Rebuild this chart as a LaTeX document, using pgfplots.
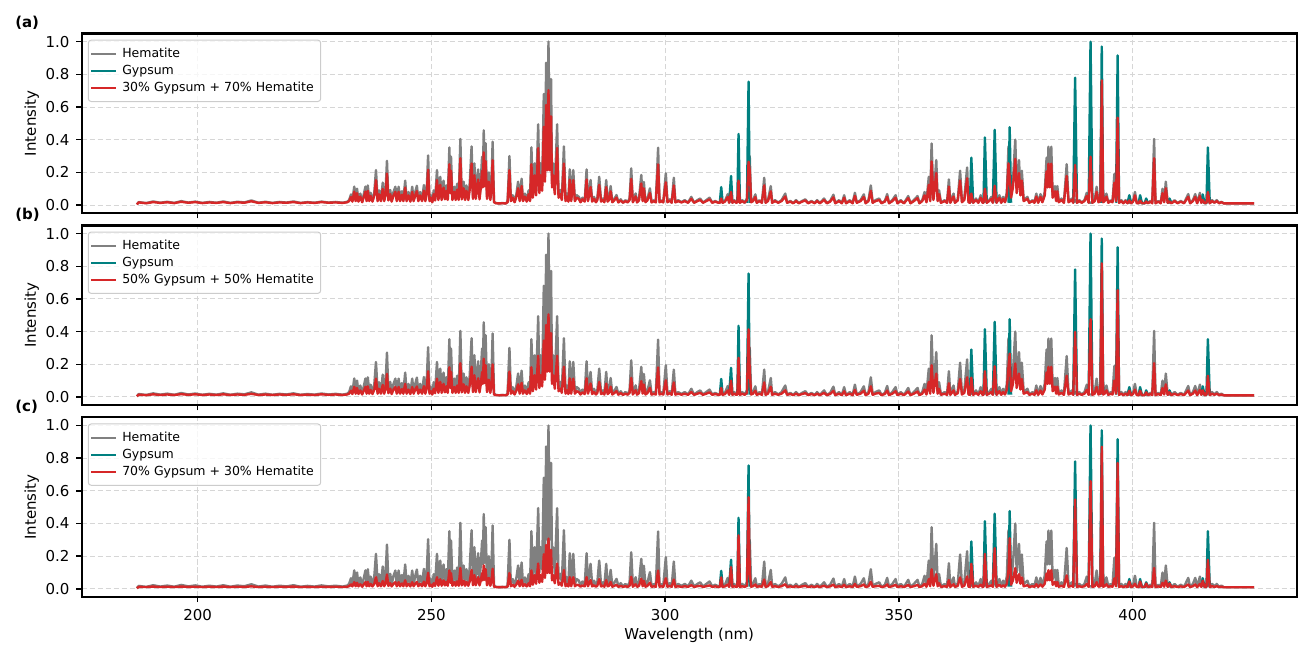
\documentclass[border=0pt]{standalone}
\usepackage{pgfplots}
\pgfplotsset{compat=1.18}
\usepackage{pgfplotstable}
\usepackage{fontspec}
\setmainfont{DejaVu Sans}

\definecolor{hemgray}{RGB}{128,128,128}
\definecolor{gyteal}{RGB}{0,128,128}
\definecolor{mixred}{RGB}{214,39,40}
\definecolor{gridgray}{RGB}{214,214,214}
\definecolor{legframe}{RGB}{204,204,204}

% LIBS emission spectra (normalised): h = hematite, g = gypsum lines
% (nan where the gypsum trace stays on its baseline, hidden below the mixture),
% a/b/c = 30/50/70 % gypsum mixtures with hematite
\pgfplotstableread{
x h g a b c
187.0 0.004 nan 0.004 0.004 0.004
187.4 0.018 nan 0.016 0.014 0.012
189.0 0.012 nan 0.011 0.011 0.011
190.5 0.022 nan 0.018 0.016 0.014
192.0 0.014 nan 0.013 0.012 0.011
193.5 0.020 nan 0.017 0.015 0.013
195.0 0.013 nan 0.012 0.012 0.011
196.5 0.024 nan 0.020 0.017 0.014
198.0 0.015 nan 0.014 0.013 0.012
199.5 0.021 nan 0.018 0.016 0.013
201.0 0.013 nan 0.012 0.012 0.011
202.5 0.019 nan 0.016 0.015 0.013
204.0 0.014 nan 0.013 0.012 0.011
205.5 0.022 nan 0.018 0.016 0.014
207.0 0.013 nan 0.012 0.012 0.011
208.5 0.020 nan 0.017 0.015 0.013
210.0 0.016 nan 0.014 0.013 0.012
211.5 0.028 nan 0.023 0.019 0.015
213.0 0.014 nan 0.013 0.012 0.011
214.5 0.020 nan 0.017 0.015 0.013
216.0 0.013 nan 0.012 0.012 0.011
217.5 0.019 nan 0.016 0.015 0.013
219.0 0.015 nan 0.014 0.013 0.012
220.5 0.022 nan 0.018 0.016 0.014
222.0 0.013 nan 0.012 0.012 0.011
223.5 0.018 nan 0.016 0.014 0.012
225.0 0.014 nan 0.013 0.012 0.011
226.5 0.021 nan 0.018 0.016 0.013
228.0 0.015 nan 0.014 0.013 0.012
229.5 0.019 nan 0.016 0.015 0.013
231.0 0.014 nan 0.013 0.012 0.011
232.0 0.020 nan 0.017 0.015 0.013
232.4 0.030 nan 0.024 0.020 0.016
232.8 0.065 nan 0.049 0.038 0.027
233.1 0.025 nan 0.021 0.018 0.015
233.5 0.113 nan 0.082 0.062 0.041
233.8 0.030 nan 0.024 0.020 0.016
234.1 0.100 nan 0.073 0.055 0.037
234.4 0.025 nan 0.021 0.018 0.015
234.8 0.070 nan 0.052 0.040 0.028
235.2 0.020 nan 0.017 0.015 0.013
235.5 0.060 nan 0.045 0.035 0.025
235.9 0.113 nan 0.082 0.062 0.041
236.15 0.030 nan 0.024 0.020 0.016
236.4 0.120 nan 0.087 0.065 0.043
236.7 0.030 nan 0.024 0.020 0.016
237.0 0.075 nan 0.056 0.043 0.030
237.4 0.025 nan 0.021 0.018 0.015
237.8 0.080 nan 0.059 0.045 0.031
238.15 0.214 nan 0.153 0.112 0.071
238.5 0.030 nan 0.024 0.020 0.016
238.8 0.090 nan 0.066 0.050 0.034
239.2 0.030 nan 0.024 0.020 0.016
239.6 0.137 nan 0.099 0.074 0.048
239.9 0.030 nan 0.024 0.020 0.016
240.2 0.085 nan 0.063 0.048 0.033
240.5 0.271 nan 0.193 0.141 0.088
240.8 0.035 nan 0.028 0.023 0.018
241.2 0.092 nan 0.067 0.051 0.035
241.5 0.025 nan 0.021 0.018 0.015
241.9 0.080 nan 0.059 0.045 0.031
242.3 0.112 nan 0.081 0.061 0.041
242.6 0.030 nan 0.024 0.020 0.016
243.0 0.112 nan 0.081 0.061 0.041
243.3 0.030 nan 0.024 0.020 0.016
243.7 0.085 nan 0.063 0.048 0.033
244.0 0.030 nan 0.024 0.020 0.016
244.4 0.149 nan 0.107 0.080 0.052
244.7 0.030 nan 0.024 0.020 0.016
245.1 0.080 nan 0.059 0.045 0.031
245.5 0.025 nan 0.021 0.018 0.015
245.9 0.112 nan 0.081 0.061 0.041
246.2 0.030 nan 0.024 0.020 0.016
246.6 0.085 nan 0.063 0.048 0.033
246.9 0.118 nan 0.086 0.064 0.042
247.2 0.030 nan 0.024 0.020 0.016
247.6 0.080 nan 0.059 0.045 0.031
248.0 0.030 nan 0.024 0.020 0.016
248.4 0.122 nan 0.088 0.066 0.044
248.7 0.030 nan 0.024 0.020 0.016
249.0 0.090 nan 0.066 0.050 0.034
249.3 0.304 nan 0.216 0.157 0.098
249.6 0.030 nan 0.024 0.020 0.016
249.9 0.060 nan 0.045 0.035 0.025
250.2 0.020 nan 0.017 0.015 0.013
250.5 0.090 nan 0.066 0.050 0.034
250.8 0.035 nan 0.028 0.023 0.018
251.2 0.214 nan 0.153 0.112 0.071
251.5 0.040 nan 0.031 0.025 0.019
251.9 0.173 nan 0.124 0.092 0.059
252.2 0.040 nan 0.031 0.025 0.019
252.6 0.149 nan 0.107 0.080 0.052
252.9 0.045 nan 0.035 0.028 0.021
253.2 0.120 nan 0.087 0.065 0.043
253.5 0.040 nan 0.031 0.025 0.019
253.85 0.353 nan 0.250 0.182 0.113
254.05 0.100 nan 0.073 0.055 0.037
254.2 0.296 nan 0.210 0.153 0.096
254.5 0.040 nan 0.031 0.025 0.019
254.9 0.112 nan 0.081 0.061 0.041
255.2 0.040 nan 0.031 0.025 0.019
255.5 0.130 nan 0.094 0.070 0.046
255.85 0.040 nan 0.031 0.025 0.019
256.2 0.404 nan 0.286 0.207 0.128
256.5 0.045 nan 0.035 0.028 0.021
256.9 0.143 nan 0.103 0.077 0.050
257.2 0.040 nan 0.031 0.025 0.019
257.5 0.120 nan 0.087 0.065 0.043
257.9 0.040 nan 0.031 0.025 0.019
258.2 0.130 nan 0.094 0.070 0.046
258.6 0.359 nan 0.254 0.185 0.115
258.9 0.050 nan 0.038 0.030 0.022
259.2 0.255 nan 0.182 0.133 0.084
259.5 0.050 nan 0.038 0.030 0.022
260.0 0.218 nan 0.156 0.114 0.072
260.3 0.045 nan 0.035 0.028 0.021
260.55 0.140 nan 0.101 0.075 0.049
260.85 0.296 nan 0.210 0.153 0.096
261.0 0.150 nan 0.108 0.080 0.052
261.2 0.457 nan 0.323 0.234 0.144
261.4 0.160 nan 0.115 0.085 0.055
261.6 0.378 nan 0.268 0.194 0.120
261.9 0.050 nan 0.038 0.030 0.022
262.3 0.200 nan 0.143 0.105 0.067
262.6 0.040 nan 0.031 0.025 0.019
262.85 0.120 nan 0.087 0.065 0.043
263.1 0.388 nan 0.275 0.199 0.123
263.4 0.020 nan 0.017 0.015 0.013
263.8 0.012 nan 0.011 0.011 0.011
264.5 0.010 nan 0.010 0.010 0.010
265.2 0.012 nan 0.011 0.011 0.011
265.9 0.010 nan 0.010 0.010 0.010
266.3 0.020 nan 0.017 0.015 0.013
266.7 0.300 nan 0.213 0.155 0.097
267.0 0.030 nan 0.024 0.020 0.016
267.4 0.060 nan 0.045 0.035 0.025
267.8 0.020 nan 0.017 0.015 0.013
268.2 0.070 nan 0.052 0.040 0.028
268.55 0.143 nan 0.103 0.077 0.050
268.9 0.030 nan 0.024 0.020 0.016
269.3 0.161 nan 0.116 0.086 0.055
269.6 0.030 nan 0.024 0.020 0.016
270.0 0.070 nan 0.052 0.040 0.028
270.4 0.025 nan 0.021 0.018 0.015
270.8 0.090 nan 0.066 0.050 0.034
271.1 0.030 nan 0.024 0.020 0.016
271.4 0.353 nan 0.250 0.182 0.113
271.7 0.060 nan 0.045 0.035 0.025
272.1 0.255 nan 0.182 0.133 0.084
272.4 0.080 nan 0.059 0.045 0.031
272.85 0.494 nan 0.349 0.252 0.155
273.1 0.100 nan 0.073 0.055 0.037
273.35 0.255 nan 0.182 0.133 0.084
273.7 0.120 nan 0.087 0.065 0.043
274.05 0.680 nan 0.479 0.345 0.211
274.3 0.200 nan 0.143 0.105 0.067
274.55 0.871 nan 0.613 0.441 0.268
274.8 0.300 nan 0.213 0.155 0.097
275.05 1.000 nan 0.703 0.505 0.307
275.3 0.300 nan 0.213 0.155 0.097
275.6 0.771 nan 0.543 0.391 0.238
275.8 0.150 nan 0.108 0.080 0.052
276.05 0.255 nan 0.182 0.133 0.084
276.4 0.090 nan 0.066 0.050 0.034
276.9 0.494 nan 0.349 0.252 0.155
277.2 0.060 nan 0.045 0.035 0.025
277.6 0.092 nan 0.067 0.051 0.035
277.9 0.040 nan 0.031 0.025 0.019
278.35 0.359 nan 0.254 0.185 0.115
278.7 0.030 nan 0.024 0.020 0.016
279.0 0.070 nan 0.052 0.040 0.028
279.3 0.025 nan 0.021 0.018 0.015
279.6 0.218 nan 0.156 0.114 0.072
279.9 0.030 nan 0.024 0.020 0.016
280.35 0.214 nan 0.153 0.112 0.071
280.7 0.030 nan 0.024 0.020 0.016
281.1 0.060 nan 0.045 0.035 0.025
281.55 0.050 nan 0.038 0.030 0.022
281.9 0.020 nan 0.017 0.015 0.013
282.3 0.045 nan 0.035 0.028 0.021
282.8 0.025 nan 0.021 0.018 0.015
283.2 0.218 nan 0.156 0.114 0.072
283.5 0.030 nan 0.024 0.020 0.016
284.05 0.153 nan 0.110 0.082 0.053
284.4 0.025 nan 0.021 0.018 0.015
284.8 0.050 nan 0.038 0.030 0.022
285.2 0.020 nan 0.017 0.015 0.013
285.5 0.040 nan 0.031 0.025 0.019
285.9 0.173 nan 0.124 0.092 0.059
286.3 0.025 nan 0.021 0.018 0.015
286.7 0.040 nan 0.031 0.025 0.019
287.0 0.020 nan 0.017 0.015 0.013
287.4 0.153 nan 0.110 0.082 0.053
287.7 0.025 nan 0.021 0.018 0.015
288.0 0.040 nan 0.031 0.025 0.019
288.35 0.116 nan 0.084 0.063 0.042
288.7 0.020 nan 0.017 0.015 0.013
289.1 0.035 nan 0.028 0.023 0.018
289.6 0.061 nan 0.046 0.036 0.025
290.0 0.018 nan 0.016 0.014 0.012
290.5 0.035 nan 0.028 0.023 0.018
291.0 0.015 nan 0.014 0.013 0.012
291.5 0.030 nan 0.024 0.020 0.016
292.0 0.018 nan 0.016 0.014 0.012
292.4 0.040 nan 0.031 0.025 0.019
292.75 0.224 nan 0.160 0.117 0.074
293.1 0.020 nan 0.017 0.015 0.013
293.7 0.071 nan 0.053 0.041 0.028
294.0 0.018 nan 0.016 0.014 0.012
294.4 0.035 nan 0.028 0.023 0.018
294.9 0.184 nan 0.132 0.097 0.062
295.2 0.030 nan 0.024 0.020 0.016
295.45 0.141 nan 0.102 0.076 0.049
295.8 0.020 nan 0.017 0.015 0.013
296.2 0.035 nan 0.028 0.023 0.018
296.75 0.102 nan 0.074 0.056 0.038
297.1 0.018 nan 0.016 0.014 0.012
297.6 0.030 nan 0.024 0.020 0.016
298.0 0.018 nan 0.016 0.014 0.012
298.5 0.351 nan 0.249 0.181 0.112
298.8 0.020 nan 0.017 0.015 0.013
299.2 0.030 nan 0.024 0.020 0.016
299.6 0.018 nan 0.016 0.014 0.012
300.15 0.194 nan 0.139 0.102 0.065
300.5 0.020 nan 0.017 0.015 0.013
301.0 0.035 nan 0.028 0.023 0.018
301.4 0.015 nan 0.014 0.013 0.012
301.86 0.167 nan 0.120 0.089 0.057
302.2 0.018 nan 0.016 0.014 0.012
302.8 0.030 nan 0.024 0.020 0.016
303.5 0.018 nan 0.016 0.014 0.012
304.2 0.030 nan 0.024 0.020 0.016
304.9 0.015 nan 0.014 0.013 0.012
305.6 0.050 nan 0.038 0.030 0.022
306.2 0.015 nan 0.014 0.013 0.012
306.9 0.030 nan 0.024 0.020 0.016
307.5 0.040 nan 0.031 0.025 0.019
308.1 0.015 nan 0.014 0.013 0.012
308.8 0.030 nan 0.024 0.020 0.016
309.5 0.045 nan 0.035 0.028 0.021
310.1 0.015 nan 0.014 0.013 0.012
310.7 0.025 nan 0.021 0.018 0.015
311.4 0.015 nan 0.014 0.013 0.012
311.7 0.015 0.014 0.014 0.013 0.012
312.0 0.030 0.110 0.040 0.055 0.070
312.3 0.015 0.014 0.014 0.013 0.012
312.8 0.025 nan 0.021 0.018 0.015
313.4 0.067 nan 0.050 0.039 0.027
313.7 0.015 0.014 0.014 0.013 0.012
314.1 0.040 0.178 0.080 0.100 0.133
314.4 0.015 0.014 0.014 0.013 0.012
314.8 0.030 nan 0.024 0.020 0.016
315.2 0.015 nan 0.014 0.013 0.012
315.45 0.020 0.014 0.017 0.015 0.013
315.7 0.050 0.435 0.150 0.240 0.327
316.0 0.015 0.014 0.014 0.013 0.012
316.5 0.030 nan 0.024 0.020 0.016
317.0 0.015 nan 0.014 0.013 0.012
317.5 0.040 0.014 0.031 0.025 0.019
317.85 0.050 0.755 0.265 0.414 0.561
318.1 0.300 0.014 0.213 0.155 0.097
318.4 0.020 nan 0.017 0.015 0.013
318.8 0.030 nan 0.024 0.020 0.016
319.3 0.065 nan 0.049 0.038 0.027
319.6 0.015 nan 0.014 0.013 0.012
320.2 0.030 nan 0.024 0.020 0.016
320.7 0.015 nan 0.014 0.013 0.012
321.2 0.167 nan 0.120 0.089 0.057
321.5 0.015 nan 0.014 0.013 0.012
322.0 0.030 nan 0.024 0.020 0.016
322.6 0.116 nan 0.084 0.063 0.042
322.9 0.015 nan 0.014 0.013 0.012
323.5 0.030 nan 0.024 0.020 0.016
324.2 0.015 nan 0.014 0.013 0.012
324.9 0.030 nan 0.024 0.020 0.016
325.7 0.070 nan 0.052 0.040 0.028
326.1 0.015 nan 0.014 0.013 0.012
326.8 0.025 nan 0.021 0.018 0.015
327.4 0.012 nan 0.011 0.011 0.011
328.0 0.030 nan 0.024 0.020 0.016
328.6 0.012 nan 0.011 0.011 0.011
329.3 0.025 nan 0.021 0.018 0.015
330.0 0.035 nan 0.028 0.023 0.018
330.6 0.012 nan 0.011 0.011 0.011
331.3 0.025 nan 0.021 0.018 0.015
332.0 0.012 nan 0.011 0.011 0.011
332.5 0.030 nan 0.024 0.020 0.016
333.1 0.012 nan 0.011 0.011 0.011
334.0 0.040 nan 0.031 0.025 0.019
334.6 0.012 nan 0.011 0.011 0.011
335.3 0.025 nan 0.021 0.018 0.015
336.0 0.063 nan 0.047 0.037 0.026
336.4 0.012 nan 0.011 0.011 0.011
337.2 0.030 nan 0.024 0.020 0.016
337.8 0.012 nan 0.011 0.011 0.011
338.3 0.060 nan 0.045 0.035 0.025
338.7 0.012 nan 0.011 0.011 0.011
339.5 0.030 nan 0.024 0.020 0.016
340.1 0.012 nan 0.011 0.011 0.011
340.6 0.075 nan 0.056 0.043 0.030
341.0 0.015 nan 0.014 0.013 0.012
341.8 0.030 nan 0.024 0.020 0.016
342.5 0.065 nan 0.049 0.038 0.027
342.9 0.012 nan 0.011 0.011 0.011
343.5 0.030 nan 0.024 0.020 0.016
344.0 0.120 nan 0.087 0.065 0.043
344.4 0.015 nan 0.014 0.013 0.012
345.0 0.030 nan 0.024 0.020 0.016
345.8 0.040 nan 0.031 0.025 0.019
346.3 0.012 nan 0.011 0.011 0.011
347.0 0.025 nan 0.021 0.018 0.015
347.5 0.067 nan 0.050 0.039 0.027
347.9 0.012 nan 0.011 0.011 0.011
348.6 0.030 nan 0.024 0.020 0.016
349.3 0.060 nan 0.045 0.035 0.025
349.7 0.012 nan 0.011 0.011 0.011
350.4 0.030 nan 0.024 0.020 0.016
351.1 0.012 nan 0.011 0.011 0.011
352.0 0.055 nan 0.042 0.033 0.024
352.5 0.012 nan 0.011 0.011 0.011
353.2 0.030 nan 0.024 0.020 0.016
354.0 0.055 nan 0.042 0.033 0.024
354.4 0.012 nan 0.011 0.011 0.011
355.0 0.030 nan 0.024 0.020 0.016
355.5 0.080 nan 0.059 0.045 0.031
355.9 0.020 nan 0.017 0.015 0.013
356.4 0.173 nan 0.124 0.092 0.059
356.7 0.030 nan 0.024 0.020 0.016
357.0 0.377 nan 0.267 0.194 0.120
357.4 0.040 nan 0.031 0.025 0.019
358.0 0.275 nan 0.196 0.143 0.090
358.3 0.030 nan 0.024 0.020 0.016
358.6 0.090 nan 0.066 0.050 0.034
359.0 0.015 nan 0.014 0.013 0.012
359.8 0.030 nan 0.024 0.020 0.016
360.3 0.015 nan 0.014 0.013 0.012
360.7 0.157 nan 0.113 0.084 0.054
361.0 0.015 nan 0.014 0.013 0.012
361.7 0.070 nan 0.052 0.040 0.028
362.0 0.015 nan 0.014 0.013 0.012
362.6 0.035 nan 0.028 0.023 0.018
363.1 0.210 nan 0.150 0.110 0.070
363.5 0.020 nan 0.017 0.015 0.013
364.0 0.040 nan 0.031 0.025 0.019
364.6 0.230 nan 0.164 0.120 0.076
364.9 0.020 nan 0.017 0.015 0.013
365.2 0.015 0.014 0.014 0.013 0.012
365.5 0.030 0.290 0.070 0.118 0.153
365.9 0.015 0.014 0.014 0.013 0.012
366.5 0.040 nan 0.031 0.025 0.019
367.0 0.015 nan 0.014 0.013 0.012
367.5 0.060 nan 0.045 0.035 0.025
367.9 0.015 nan 0.014 0.013 0.012
368.1 0.015 0.014 0.014 0.013 0.012
368.4 0.040 0.414 0.100 0.157 0.214
368.8 0.015 0.014 0.014 0.013 0.012
369.3 0.030 nan 0.024 0.020 0.016
369.8 0.050 nan 0.038 0.030 0.022
370.1 0.015 0.014 0.014 0.013 0.012
370.5 0.050 0.460 0.118 0.188 0.249
370.9 0.015 0.014 0.014 0.013 0.012
371.5 0.060 nan 0.045 0.035 0.025
371.9 0.015 nan 0.014 0.013 0.012
372.3 0.050 nan 0.038 0.030 0.022
372.7 0.020 nan 0.017 0.015 0.013
373.1 0.080 nan 0.059 0.045 0.031
373.45 0.360 0.014 0.255 0.185 0.115
373.7 0.060 0.476 0.170 0.265 0.310
374.0 0.060 0.014 0.045 0.035 0.025
374.4 0.150 nan 0.108 0.080 0.052
374.9 0.400 nan 0.283 0.205 0.127
375.2 0.100 nan 0.073 0.055 0.037
375.7 0.275 nan 0.196 0.143 0.090
376.0 0.080 nan 0.059 0.045 0.031
376.3 0.210 nan 0.150 0.110 0.070
376.7 0.030 nan 0.024 0.020 0.016
377.1 0.040 nan 0.031 0.025 0.019
377.5 0.050 nan 0.038 0.030 0.022
377.9 0.015 nan 0.014 0.013 0.012
378.6 0.030 nan 0.024 0.020 0.016
379.0 0.015 nan 0.014 0.013 0.012
379.4 0.070 nan 0.052 0.040 0.028
379.8 0.015 nan 0.014 0.013 0.012
380.3 0.067 nan 0.050 0.039 0.027
380.7 0.020 nan 0.017 0.015 0.013
381.2 0.080 nan 0.059 0.045 0.031
381.6 0.290 nan 0.206 0.150 0.094
381.8 0.150 nan 0.108 0.080 0.052
382.0 0.357 nan 0.253 0.184 0.114
382.3 0.150 nan 0.108 0.080 0.052
382.6 0.357 nan 0.253 0.184 0.114
382.9 0.060 nan 0.045 0.035 0.025
383.4 0.116 nan 0.084 0.063 0.042
383.65 0.030 nan 0.024 0.020 0.016
383.9 0.116 nan 0.084 0.063 0.042
384.2 0.020 nan 0.017 0.015 0.013
384.8 0.040 nan 0.031 0.025 0.019
385.3 0.015 nan 0.014 0.013 0.012
385.9 0.250 nan 0.178 0.130 0.082
386.3 0.020 nan 0.017 0.015 0.013
387.0 0.040 nan 0.031 0.025 0.019
387.3 0.015 0.014 0.014 0.013 0.012
387.7 0.030 0.780 0.245 0.398 0.547
388.1 0.015 0.014 0.014 0.013 0.012
388.6 0.030 nan 0.024 0.020 0.016
389.1 0.015 nan 0.014 0.013 0.012
389.7 0.030 nan 0.024 0.020 0.016
390.2 0.075 nan 0.056 0.043 0.030
390.6 0.015 0.014 0.014 0.013 0.012
391.0 0.015 1.000 0.296 0.476 0.660
391.4 0.015 0.014 0.014 0.013 0.012
391.9 0.030 nan 0.024 0.020 0.016
392.3 0.112 nan 0.081 0.061 0.041
392.7 0.020 nan 0.017 0.015 0.013
393.1 0.030 0.014 0.024 0.020 0.016
393.4 0.670 0.970 0.763 0.818 0.870
393.7 0.020 0.014 0.017 0.015 0.013
394.0 0.030 nan 0.024 0.020 0.016
394.4 0.070 nan 0.052 0.040 0.028
394.8 0.015 nan 0.014 0.013 0.012
395.3 0.030 nan 0.024 0.020 0.016
395.7 0.020 nan 0.017 0.015 0.013
396.1 0.190 nan 0.136 0.100 0.064
396.45 0.030 0.014 0.024 0.020 0.016
396.8 0.380 0.916 0.535 0.654 0.771
397.1 0.015 0.014 0.014 0.013 0.012
397.6 0.030 nan 0.024 0.020 0.016
398.0 0.012 nan 0.011 0.011 0.011
398.5 0.030 nan 0.024 0.020 0.016
398.9 0.012 0.012 0.011 0.011 0.011
399.3 0.015 0.060 0.028 0.038 0.045
399.7 0.012 0.012 0.011 0.011 0.011
400.1 0.025 nan 0.021 0.018 0.015
400.5 0.080 nan 0.059 0.045 0.031
400.9 0.012 nan 0.011 0.011 0.011
401.3 0.012 0.012 0.011 0.011 0.011
401.6 0.015 0.060 0.028 0.038 0.045
402.0 0.012 0.012 0.011 0.011 0.011
402.6 0.012 0.012 0.011 0.011 0.011
402.9 0.015 0.040 0.022 0.028 0.033
403.3 0.012 0.012 0.011 0.011 0.011
403.8 0.025 nan 0.021 0.018 0.015
404.2 0.012 nan 0.011 0.011 0.011
404.6 0.404 nan 0.286 0.207 0.128
404.9 0.012 nan 0.011 0.011 0.011
405.5 0.025 nan 0.021 0.018 0.015
406.0 0.012 nan 0.011 0.011 0.011
406.4 0.100 nan 0.073 0.055 0.037
406.75 0.020 nan 0.017 0.015 0.013
407.1 0.143 nan 0.103 0.077 0.050
407.5 0.015 0.012 0.014 0.013 0.012
407.9 0.015 0.040 0.022 0.028 0.033
408.3 0.012 0.012 0.011 0.011 0.011
409.0 0.030 nan 0.024 0.020 0.016
409.6 0.012 nan 0.011 0.011 0.011
410.3 0.025 nan 0.021 0.018 0.015
411.0 0.012 nan 0.011 0.011 0.011
411.9 0.067 nan 0.050 0.039 0.027
412.3 0.012 nan 0.011 0.011 0.011
412.9 0.030 nan 0.024 0.020 0.016
413.4 0.067 nan 0.050 0.039 0.027
413.8 0.012 nan 0.011 0.011 0.011
414.4 0.075 nan 0.056 0.043 0.030
414.7 0.015 0.012 0.014 0.013 0.012
415.0 0.030 0.065 0.030 0.040 0.050
415.4 0.012 0.012 0.011 0.011 0.011
415.8 0.015 0.012 0.014 0.013 0.012
416.1 0.040 0.353 0.080 0.130 0.178
416.5 0.012 0.012 0.011 0.011 0.011
417.0 0.030 nan 0.024 0.020 0.016
417.5 0.015 nan 0.014 0.013 0.012
418.0 0.030 nan 0.024 0.020 0.016
418.5 0.012 nan 0.011 0.011 0.011
419.0 0.020 nan 0.017 0.015 0.013
419.5 0.010 nan 0.010 0.010 0.010
422.0 0.010 nan 0.010 0.010 0.010
426.0 0.010 nan 0.010 0.010 0.010
}\spectra

\pgfplotsset{
  panel/.style={
    scale only axis, width=607.5pt, height=89.85pt,
    anchor=north west,
    xmin=175.2, xmax=435.1, ymin=-0.05, ymax=1.05,
    axis line style={line width=1.1pt, black},
    xtick={200,250,300,350,400},
    ytick={0,0.2,0.4,0.6,0.8,1.0},
    tick align=outside, tick pos=left,
    major tick length=2.6pt,
    tick style={line width=0.7pt, black},
    grid=major,
    grid style={gridgray, line width=0.45pt, dash pattern=on 2.8pt off 1.2pt},
    /pgf/number format/assume math mode=true,
    yticklabel style={/pgf/number format/.cd, fixed, fixed zerofill, precision=1},
    ticklabel style={font=\fontsize{7.5}{9}\selectfont, text=black},
    ylabel={Intensity},
    every axis y label/.style={at={(axis description cs:-0.0412,0.5)},
      rotate=90, anchor=center, font=\fontsize{7.5}{9}\selectfont},
    every axis x label/.style={at={(axis description cs:0.5,-0.2365)},
      anchor=base, font=\fontsize{7.5}{9}\selectfont},
    legend cell align=left,
    legend style={at={(rel axis cs:0.005,0.966)}, anchor=north west,
      draw=legframe, line width=0.5pt, rounded corners=1.5pt,
      fill=white, fill opacity=0.8, text opacity=1,
      font=\fontsize{6.25}{7.5}\selectfont,
      inner xsep=1pt, inner ysep=3pt, row sep=0.8pt,
      nodes={inner xsep=2.5pt, inner ysep=0.8pt, text height=4.8pt, text depth=1.3pt}},
    legend image code/.code={\draw[line width=1pt] (0pt,0pt) -- (12.5pt,0pt);},
    every axis plot/.append style={line width=1.2pt, line join=round, no markers},
  }
}

\begin{document}
\begin{tikzpicture}
\useasboundingbox (0pt,0pt) rectangle (649pt,-322pt);

% (a) 30 % gypsum
\begin{axis}[panel, at={(40.85pt,-16.75pt)}, xticklabels={}]
\addplot[hemgray] table[x=x, y=h] {\spectra};
\addplot[gyteal, unbounded coords=jump] table[x=x, y=g] {\spectra};
\addplot[mixred] table[x=x, y=a] {\spectra};
\legend{Hematite, Gypsum, 30\% Gypsum + 70\% Hematite}
\end{axis}

% (b) 50 % gypsum
\begin{axis}[panel, at={(40.85pt,-112.7pt)}, xticklabels={}]
\addplot[hemgray] table[x=x, y=h] {\spectra};
\addplot[gyteal, unbounded coords=jump] table[x=x, y=g] {\spectra};
\addplot[mixred] table[x=x, y=b] {\spectra};
\legend{Hematite, Gypsum, 50\% Gypsum + 50\% Hematite}
\end{axis}

% (c) 70 % gypsum
\begin{axis}[panel, at={(40.85pt,-208.65pt)},
  xticklabels={200,250,300,350,400}, xlabel={Wavelength (nm)}]
\addplot[hemgray] table[x=x, y=h] {\spectra};
\addplot[gyteal, unbounded coords=jump] table[x=x, y=g] {\spectra};
\addplot[mixred] table[x=x, y=c] {\spectra};
\legend{Hematite, Gypsum, 70\% Gypsum + 30\% Hematite}
\end{axis}

\node[anchor=base west, font=\bfseries\fontsize{7.5}{9}\selectfont] at (4.1pt,-13.65pt) {(a)};
\node[anchor=base west, font=\bfseries\fontsize{7.5}{9}\selectfont] at (4.1pt,-109.6pt) {(b)};
\node[anchor=base west, font=\bfseries\fontsize{7.5}{9}\selectfont] at (4.1pt,-205.55pt) {(c)};
\end{tikzpicture}
\end{document}
